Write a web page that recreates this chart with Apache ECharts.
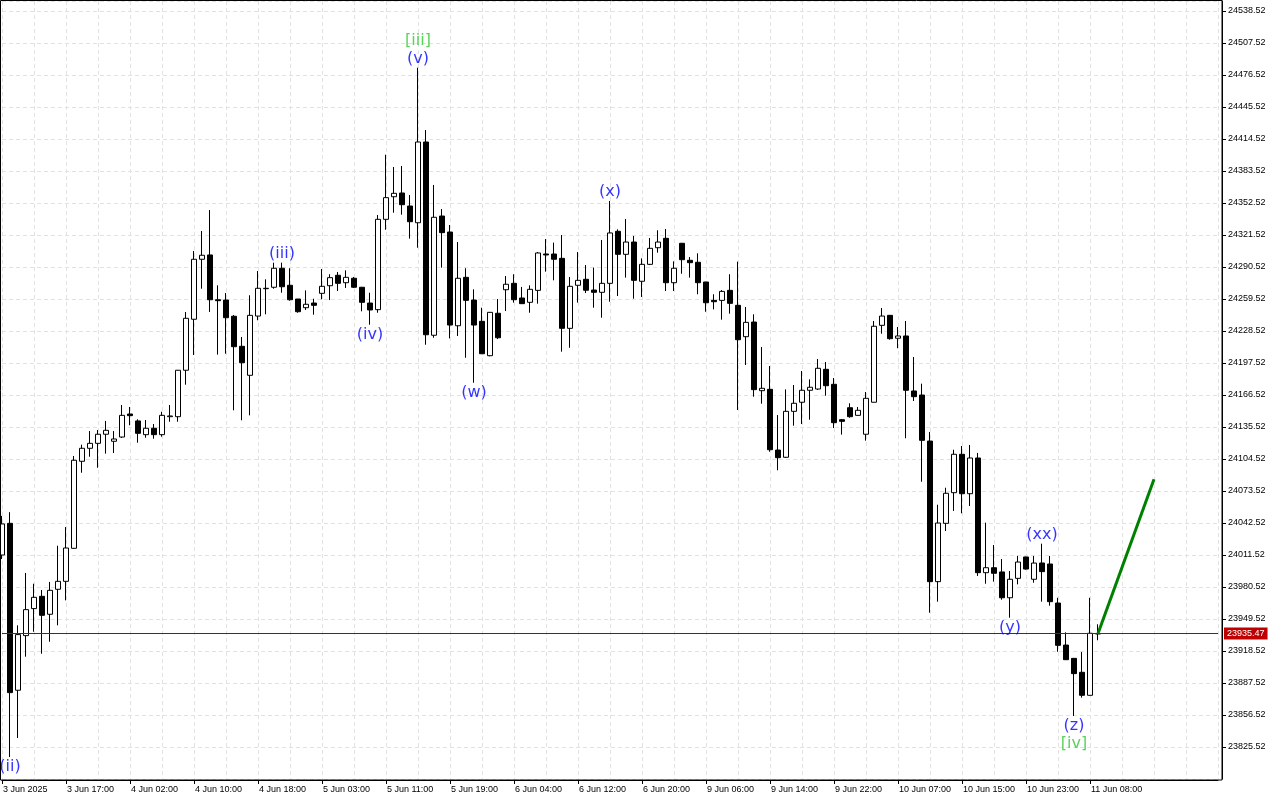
<!DOCTYPE html>
<html>
<head>
<meta charset="utf-8">
<script src="https://cdn.jsdelivr.net/npm/echarts@6/dist/echarts.min.js"></script>
<style>
html,body{margin:0;padding:0;background:#fff;}
#chart{width:1280px;height:800px;}
</style>
</head>
<body>
<div id="chart"></div>
<script>
// ---- data ----
const tickLabels = ["3 Jun 2025","3 Jun 17:00","4 Jun 02:00","4 Jun 10:00","4 Jun 18:00","5 Jun 03:00","5 Jun 11:00","5 Jun 19:00","6 Jun 04:00","6 Jun 12:00","6 Jun 20:00","9 Jun 06:00","9 Jun 14:00","9 Jun 22:00","10 Jun 07:00","10 Jun 15:00","10 Jun 23:00","11 Jun 08:00"];
const barsPerLabel = 8;
const futureBars = 15;

const opens = [24011.5,24042.2,23880.5,23933.4,23959.6,23971.5,23954.1,23978.3,23986.0,24018.0,
24102.3,24114.9,24119.7,24128.5,24121.7,24125.8,24148.1,24141.4,24128.1,24134.3,
24128.1,24145.5,24145.5,24190.5,24239.9,24298.0,24302.2,24258.8,24258.5,24242.8,
24213.7,24185.6,24243.0,24269.5,24270.9,24289.3,24272.8,24259.5,24251.1,24255.6,
24265.0,24272.4,24282.5,24275.3,24279.6,24270.9,24255.6,24249.2,24336.7,24358.6,
24362.2,24349.6,24333.4,24411.6,24224.4,24339.9,24324.4,24233.6,24280.5,24258.5,
24237.9,24204.6,24245.7,24268.5,24274.7,24260.5,24256.3,24267.9,24303.1,24303.1,
24298.9,24231.1,24272.8,24278.6,24268.2,24266.0,24274.7,24325.1,24302.8,24314.7,
24276.7,24293.1,24309.2,24318.3,24275.3,24313.5,24297.0,24295.1,24276.0,24258.2,
24258.2,24267.9,24253.4,24223.0,24237.2,24170.7,24172.0,24113.2,24106.2,24150.7,
24159.5,24171.1,24172.3,24191.4,24176.9,24142.6,24154.2,24146.8,24128.5,24159.5,
24234.0,24243.7,24221.5,24223.7,24170.4,24166.5,24121.9,23985.7,24042.2,24071.9,
24109.1,24070.9,24105.5,23994.4,23999.2,23995.1,23970.1,23988.9,24009.6,23988.0,
24003.8,24002.8,23965.0,23924.3,23911.4,23897.9,23875.6,23935.0];
const highs = [24049.4,24053.0,23943.4,23994.1,23983.7,23977.6,23985.4,24020.5,24038.6,24107.4,
24118.4,24131.6,24132.6,24141.4,24131.6,24156.8,24154.9,24143.0,24142.3,24138.4,
24150.3,24156.8,24190.7,24246.9,24306.0,24325.4,24345.7,24272.8,24265.3,24244.0,
24222.7,24263.1,24286.6,24278.6,24294.7,24294.7,24289.3,24259.5,24267.9,24259.8,
24288.6,24283.5,24285.7,24287.3,24280.8,24271.2,24265.6,24340.9,24399.3,24387.4,
24388.4,24360.3,24483.6,24423.2,24370.0,24346.7,24331.2,24314.7,24289.3,24268.9,
24251.1,24246.9,24259.5,24281.8,24283.5,24271.2,24272.8,24305.0,24317.6,24314.1,
24321.5,24280.8,24305.0,24292.4,24289.9,24316.7,24354.5,24327.0,24337.0,24320.6,
24298.9,24318.6,24326.1,24327.3,24296.0,24313.8,24300.2,24303.8,24276.0,24264.1,
24268.2,24283.5,24295.7,24251.8,24244.7,24213.0,24194.6,24147.1,24172.0,24176.2,
24189.8,24181.7,24201.4,24198.5,24183.0,24143.3,24158.5,24154.9,24169.4,24238.2,
24250.8,24244.0,24232.4,24238.2,24203.3,24177.5,24130.7,24060.2,24076.7,24113.5,
24117.1,24118.1,24110.4,24042.8,24021.2,24007.6,23996.0,24010.6,24009.9,24010.6,
24022.5,24010.6,23970.1,23936.6,23911.7,23917.5,23970.1,23944.4];
const lows = [24007.6,23815.8,23834.2,23913.0,23937.2,23915.9,23927.5,23943.4,23967.6,24017.5,
24091.2,24106.7,24096.1,24109.7,24110.3,24124.9,24137.2,24120.3,24125.1,24124.2,
24126.1,24140.6,24140.6,24176.5,24205.3,24269.5,24247.0,24205.6,24206.5,24151.7,
24142.0,24146.8,24238.9,24244.7,24269.5,24265.6,24257.9,24246.2,24248.9,24244.3,
24259.2,24258.5,24267.3,24270.2,24270.2,24247.6,24234.6,24246.2,24326.6,24343.1,
24341.2,24318.0,24309.2,24215.2,24222.0,24289.9,24221.4,24223.7,24202.6,24178.4,
24206.2,24204.0,24220.8,24247.9,24256.0,24254.7,24246.2,24255.0,24286.0,24277.6,
24208.5,24212.3,24256.0,24265.3,24251.1,24241.4,24256.9,24262.4,24280.2,24259.8,
24261.5,24292.4,24304.4,24267.3,24267.3,24284.0,24280.2,24264.1,24247.2,24249.5,
24239.5,24245.3,24152.0,24195.6,24164.9,24158.1,24111.6,24093.6,24105.5,24136.8,
24138.4,24142.6,24171.4,24165.8,24134.5,24128.1,24144.5,24146.6,24122.3,24159.3,
24225.9,24220.1,24211.8,24124.6,24160.7,24082.5,23955.6,23966.3,24034.8,24054.2,
24051.9,24059.0,23991.2,23983.7,23985.7,23968.2,23950.8,23983.1,23997.3,23984.7,
23966.3,23962.4,23917.8,23909.8,23855.5,23873.3,23875.4,23928.9];
const closes = [24041.6,23878.2,23934.4,23958.6,23970.5,23953.1,23977.3,23986.0,24018.3,24103.3,
24114.9,24119.7,24128.5,24132.3,24123.9,24146.8,24146.5,24129.4,24134.3,24128.1,
24146.8,24146.2,24190.5,24240.8,24298.0,24301.9,24258.8,24257.9,24241.4,24213.3,
24197.8,24243.7,24269.9,24269.9,24289.3,24271.4,24258.8,24247.2,24254.4,24253.4,
24271.8,24280.2,24274.7,24280.5,24270.9,24256.3,24248.9,24336.7,24357.7,24361.9,
24350.9,24334.4,24411.6,24224.9,24338.7,24323.8,24234.3,24279.6,24258.2,24234.3,
24206.5,24246.6,24222.0,24273.8,24258.8,24255.0,24268.9,24304.1,24302.2,24298.0,
24231.1,24271.8,24277.6,24268.0,24266.0,24274.7,24323.5,24302.8,24314.7,24277.6,
24293.1,24308.6,24314.7,24275.3,24289.3,24297.6,24294.7,24275.3,24255.9,24256.9,
24266.9,24255.3,24220.1,24236.9,24171.7,24173.0,24113.5,24105.8,24150.7,24158.5,
24171.1,24174.0,24192.4,24175.5,24139.7,24141.0,24145.5,24151.7,24163.3,24233.1,
24243.0,24221.1,24223.7,24171.1,24164.9,24122.6,23985.7,24042.5,24071.3,24109.1,
24070.9,24105.5,23994.4,23999.2,23993.8,23970.1,23988.0,24004.7,23997.9,24003.7,
23995.4,23966.3,23924.0,23910.1,23896.6,23875.6,23935.7,23935.47];
const currentPrice = 23935.47;

// price axis
const priceMin = 23794.52;
const priceMax = 24548.2075;
const priceStep = 31;

// Elliott wave labels
const waveIdx   = [1, 52, 35, 46, 59, 76, 126, 130, 134];
const waveMinor = ['(ii)', '(v)', '(iii)', '(iv)', '(w)', '(x)', '(y)', '(xx)', '(z)'];
const waveMajor = ['', '[iii]', '', '', '', '', '', '', '[iv]'];
const waveSide  = ['low', 'high', 'high', 'low', 'low', 'high', 'low', 'high', 'low'];

// projection arrow
const projIdx = [137, 144];
const projPrice = [23935.47, 24084.8];

// ---- chart ----
const nBars = opens.length;
const nCats = nBars + futureBars;
const cats = [];
for (let i = 0; i < nCats; i++) cats.push(String(i));
const ohlc = [];
for (let i = 0; i < nBars; i++) ohlc.push([opens[i], closes[i], lows[i], highs[i]]);

const waveData = waveIdx.map((idx, k) => {
  const isHigh = waveSide[k] === 'high';
  let txt;
  if (waveMajor[k]) {
    txt = isHigh ? '{g|' + waveMajor[k] + '}\n{b|' + waveMinor[k] + '}'
                 : '{b|' + waveMinor[k] + '}\n{g|' + waveMajor[k] + '}';
  } else {
    txt = '{b|' + waveMinor[k] + '}';
  }
  return {
    value: [idx, isHigh ? highs[idx] : lows[idx]],
    label: { position: isHigh ? 'top' : 'bottom', distance: isHigh ? 0 : 1, formatter: txt }
  };
});

const font = 'Liberation Sans, Arial, sans-serif';
const chart = echarts.init(document.getElementById('chart'), null, {renderer: 'canvas'});
chart.setOption({
  animation: false,
  backgroundColor: '#ffffff',
  grid: { left: 2, right: 62, top: 1, height: 778, containLabel: false },
  xAxis: {
    type: 'category',
    data: cats,
    boundaryGap: false,
    offset: 1,
    axisLine: { show: true, lineStyle: { color: '#000', width: 1 } },
    axisTick: {
      show: true, length: 4, lineStyle: { color: '#000' },
      interval: (i) => i % barsPerLabel === 0 && i / barsPerLabel < tickLabels.length
    },
    axisLabel: {
      show: true, align: 'left', margin: 5, color: '#000',
      fontFamily: font, fontSize: 9, padding: [0, 0, 0, 1],
      interval: (i) => i % barsPerLabel === 0 && i / barsPerLabel < tickLabels.length,
      formatter: (v, i) => tickLabels[i / barsPerLabel] || ''
    },
    splitLine: { show: true, interval: 3, lineStyle: { color: '#e2e2e2', type: [4, 3], width: 1 } }
  },
  yAxis: {
    type: 'value',
    position: 'right',
    offset: 4,
    min: priceMin,
    max: priceMax,
    interval: priceStep,
    scale: true,
    axisLine: { show: true, lineStyle: { color: '#000', width: 1 } },
    axisTick: { show: true, length: 4, lineStyle: { color: '#000' } },
    axisLabel: {
      show: true, margin: 6, color: '#000', fontFamily: font, fontSize: 9,
      showMinLabel: false, showMaxLabel: false,
      formatter: (v) => v.toFixed(2)
    },
    splitLine: { show: true, lineStyle: { color: '#e2e2e2', type: [4, 3], width: 1 } }
  },
  series: [
    {
      type: 'candlestick',
      data: ohlc,
      barWidth: 5,
      clip: false,
      itemStyle: {
        color: '#ffffff', color0: '#000000',
        borderColor: '#000000', borderColor0: '#000000', borderWidth: 1
      },
      markLine: {
        silent: true,
        symbol: ['none', 'none'],
        lineStyle: { color: '#b00000', type: 'solid', width: 1 },
        label: {
          show: true, position: 'end', distance: 6,
          formatter: () => currentPrice.toFixed(2),
          backgroundColor: '#c00000', color: '#ffffff',
          fontFamily: font, fontSize: 9, padding: [2, 3, 1, 3]
        },
        data: [{ yAxis: currentPrice }]
      },
      z: 3
    },
    {
      type: 'scatter',
      data: waveData,
      symbolSize: 0,
      silent: true,
      label: {
        show: true,
        rich: {
          b: { color: '#0000ff', fontFamily: 'DejaVu Sans, sans-serif', fontSize: 16, lineHeight: 18 },
          g: { color: '#32c832', fontFamily: 'DejaVu Sans, sans-serif', fontSize: 16, lineHeight: 18 }
        }
      },
      z: 5
    },
    {
      type: 'line',
      data: projIdx.map((x, k) => [x, projPrice[k]]),
      symbol: 'none',
      lineStyle: { color: '#008000', width: 3 },
      silent: true,
      z: 6
    }
  ],
  graphic: [
    {
      type: 'rect', silent: true, z: 100,
      shape: { x: 0.5, y: 0.5, width: 1221.5, height: 779.5 },
      style: { fill: 'none', stroke: '#000', lineWidth: 1 }
    }
  ]
});
</script>
</body>
</html>
